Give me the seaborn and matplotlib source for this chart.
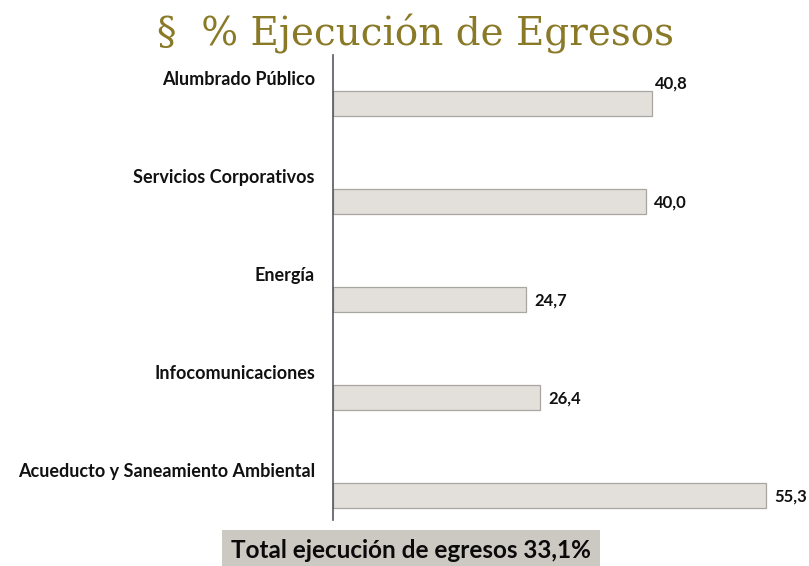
import pandas as pd
import matplotlib
matplotlib.use("Agg")
import matplotlib.pyplot as plt
from matplotlib.patches import Rectangle
import seaborn as sns

# data
areas = ["Alumbrado Público", "Servicios Corporativos", "Energía",
         "Infocomunicaciones", "Acueducto y Saneamiento Ambiental"]
ejecucion = [40.8, 40.0, 24.7, 26.4, 55.3]
total = 33.1

# which value label sits above the bar end instead of beside it
label_above = [True, False, False, False, False]

df = pd.DataFrame({"area": areas, "pct": ejecucion})

sns.set_style("white")
plt.rcParams["font.family"] = ["Lato", "DejaVu Sans"]

fig = plt.figure(figsize=(8.09, 5.66), dpi=100)
ax = fig.add_axes([333 / 809, 1 - 520 / 566, 457 / 809, 465 / 566])

sns.barplot(data=df, x="pct", y="area", orient="h", ax=ax,
            color="#e4e0da", width=0.255, edgecolor="#a9a6a2", linewidth=0.9)

ax.set_xlim(0, 58.4)
ax.set_ylim(4.255, -0.49)
ax.set_xlabel("")
ax.set_ylabel("")
ax.set_xticks([])
ax.set_yticks([])
for s in ["top", "right", "bottom"]:
    ax.spines[s].set_visible(False)
ax.spines["left"].set_color("#55595e")
ax.spines["left"].set_linewidth(1.2)

for i, (name, v) in enumerate(zip(areas, ejecucion)):
    ax.annotate(name, xy=(0, i), xycoords=("axes fraction", "data"),
                xytext=(-13, 17), textcoords="offset points",
                ha="right", va="center", fontsize=13, fontweight="bold",
                color="#111111", annotation_clip=False)
    txt = f"{v:.1f}".replace(".", ",")
    if label_above[i]:
        ax.annotate(txt, xy=(v, i), xytext=(2, 14), textcoords="offset points",
                    ha="left", va="center", fontsize=12, fontweight="bold",
                    color="#111111", annotation_clip=False)
    else:
        ax.annotate(txt, xy=(v, i), xytext=(6, -1), textcoords="offset points",
                    ha="left", va="center", fontsize=12, fontweight="bold",
                    color="#111111", annotation_clip=False)

fig.text(0.513, 0.94, "§  % Ejecución de Egresos", ha="center", va="center",
         fontsize=28, color="#8a7a28", family=["DejaVu Serif"])

fig.patches.append(Rectangle((222 / 809, 0), 378 / 809, 36 / 566,
                             transform=fig.transFigure, facecolor="#ccc8c2",
                             edgecolor="none", zorder=0))
fig.text(411 / 809, 1 - 550 / 566,
         f"Total ejecución de egresos {total:.1f}%".replace(".", ","),
         ha="center", va="center", fontsize=17.5, fontweight="bold", color="#0a0a0a")

fig.savefig("out.png", dpi=100)
